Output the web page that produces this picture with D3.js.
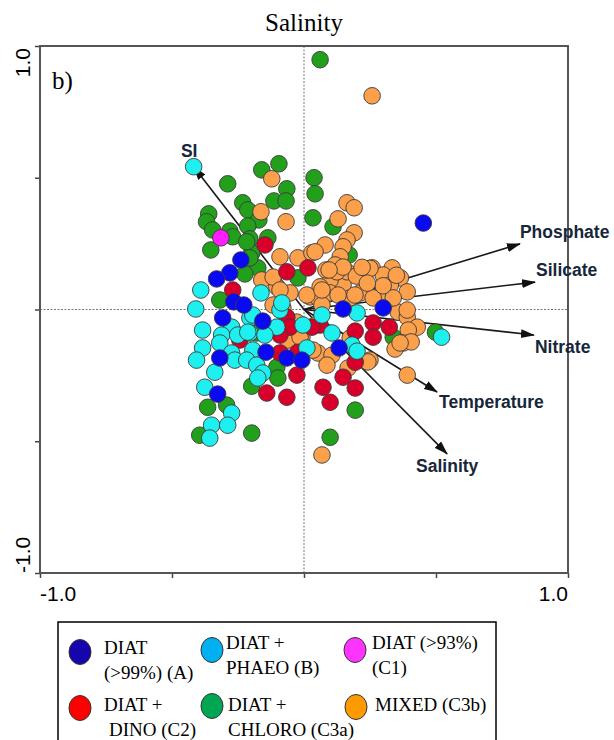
<!DOCTYPE html>
<html><head><meta charset="utf-8">
<script src="https://cdn.jsdelivr.net/npm/d3@7"></script>
<style>body{margin:0;background:#fff}svg{display:block}</style>
</head><body>
<svg id="c" width="614" height="740"></svg>
<script>
// ---------------- data ----------------
const title = "Salinity";
const panelLabel = "b)";
const axisTicks = [-1, -0.5, 0, 0.5, 1];
const xTickLabels = ["-1.0", "1.0"];
const yTickLabels = ["1.0", "-1.0"];

const envVars = ["Phosphate", "Silicate", "Nitrate", "Temperature", "Salinity", "SI"];
const envX = [0.818, 0.875, 0.871, 0.504, 0.542, -0.417];
const envY = [0.249, 0.104, -0.097, -0.313, -0.548, 0.541];

const groupNames = ["DIAT (>99%) (A)", "DIAT + PHAEO (B)", "DIAT (>93%) (C1)", "DIAT + DINO (C2)", "DIAT + CHLORO (C3a)", "MIXED (C3b)"];

const diatA = [[0.452,0.328],[-0.239,0.188],[-0.281,0.139],[-0.331,0.116],[-0.266,0.029],[-0.228,0.017],[0.148,0.002],[0.300,0.006],[0.133,-0.146],[-0.065,-0.184],[-0.008,-0.192],[-0.308,-0.032],[-0.156,-0.044],[-0.144,-0.162],[-0.319,-0.184],[-0.327,-0.321]];
const diatPhaeo = [[-0.418,0.542],[-0.163,0.063],[-0.391,0.074],[-0.410,0.002],[0.521,-0.105],[0.201,-0.013],[0.068,-0.021],[0.182,-0.135],[0.201,-0.158],[-0.091,-0.002],[-0.004,-0.059],[0.106,-0.089],[-0.084,0.025],[-0.274,-0.067],[-0.205,-0.032],[-0.103,-0.067],[-0.384,-0.078],[-0.312,-0.097],[-0.251,-0.097],[-0.205,-0.089],[-0.148,-0.097],[-0.384,-0.146],[-0.319,-0.127],[-0.274,-0.165],[-0.194,-0.154],[0.011,-0.146],[-0.407,-0.192],[-0.262,-0.192],[-0.217,-0.192],[-0.179,-0.211],[-0.156,-0.241],[-0.338,-0.238],[-0.175,-0.260],[-0.376,-0.295],[-0.274,-0.393],[-0.350,-0.439],[-0.289,-0.439],[-0.357,-0.488],[-0.194,-0.021],[-0.213,-0.086]];
const diat93 = [[-0.315,0.272]];
const diatDino = [[-0.148,0.245],[-0.065,0.143],[0.015,0.158],[-0.270,0.074],[0.262,-0.051],[0.194,-0.082],[0.061,-0.059],[0.262,-0.105],[0.323,-0.067],[0.194,-0.200],[-0.027,-0.249],[0.148,-0.257],[-0.065,-0.029],[0.194,-0.298],[0.072,-0.295],[0.099,-0.352],[-0.053,-0.067],[0.030,-0.067],[-0.243,-0.116],[-0.091,-0.165],[-0.023,-0.162],[-0.141,-0.317],[-0.065,-0.333],[-0.091,-0.097]];
const diatChloro = [[0.061,0.948],[-0.160,0.530],[-0.095,0.553],[-0.289,0.477],[-0.065,0.458],[-0.114,0.412],[-0.068,0.412],[-0.232,0.405],[-0.213,0.378],[-0.171,0.340],[-0.361,0.363],[-0.369,0.333],[-0.213,0.317],[-0.346,0.302],[-0.281,0.298],[-0.270,0.276],[-0.205,0.268],[-0.137,0.272],[-0.353,0.226],[-0.198,0.215],[-0.175,0.158],[-0.224,0.135],[-0.023,0.120],[-0.319,0.036],[0.038,0.500],[0.042,0.439],[0.034,0.348],[0.110,0.314],[0.171,0.207],[-0.217,0.257],[-0.205,0.196],[0.338,-0.105],[0.498,-0.086],[0.194,-0.382],[0.099,-0.485],[-0.179,-0.089],[-0.103,-0.219],[-0.099,-0.260],[-0.198,-0.291],[-0.365,-0.371],[-0.293,-0.363],[-0.395,-0.477],[-0.198,-0.469]];
const mixed = [[0.258,0.811],[-0.122,0.496],[-0.163,0.371],[-0.068,0.333],[-0.091,0.200],[-0.023,0.196],[0.030,0.215],[-0.160,0.112],[-0.103,0.086],[-0.053,0.063],[0.023,0.048],[0.163,0.405],[0.190,0.386],[0.129,0.344],[0.190,0.291],[0.163,0.264],[0.080,0.245],[0.148,0.238],[0.137,0.200],[0.118,0.169],[0.258,0.158],[0.334,0.158],[0.300,0.131],[0.365,0.120],[0.327,0.093],[0.391,0.067],[0.281,0.048],[0.148,0.093],[0.099,0.112],[0.163,0.143],[0.198,0.127],[0.213,0.063],[0.175,0.044],[0.099,0.063],[0.049,0.048],[0.061,0.086],[-0.027,-0.048],[0.357,-0.010],[0.391,-0.029],[0.429,-0.067],[0.395,-0.078],[0.376,-0.127],[0.406,-0.123],[0.345,-0.150],[0.250,-0.192],[0.053,-0.165],[0.106,-0.173],[-0.008,-0.105],[0.391,-0.249],[0.391,-0.002],[0.087,-0.211],[0.167,-0.222],[0.068,-0.552],[-0.117,0.017],[-0.080,0.006],[0.042,-0.059],[0.175,-0.108],[-0.117,0.123],[0.125,0.143],[0.083,0.150],[0.129,0.055],[-0.061,-0.116],[0.034,-0.154],[0.338,0.044],[0.068,0.017],[0.042,0.219],[0.011,0.055],[0.193,0.055],[0.364,-0.127],[0.242,-0.199],[0.148,0.161],[0.250,0.156],[0.262,0.044],[-0.015,-0.105],[-0.091,0.074],[0.068,0.074],[0.095,0.150],[0.300,0.090],[0.240,0.100],[0.220,0.160],[0.350,0.130]];

// ---------------- style ----------------
const pointColors = {A:"#0a0af2", B:"#1ef0f0", C1:"#ff1eff", C2:"#d8002a", C3a:"#22a01c", C3b:"#fca04c"};
const legendColors = ["#1605ad", "#00b0f0", "#ff33ff", "#ff0000", "#00a651", "#ff9900"];
const labelOffsets = [[0,-6],[1,-6],[1,18],[2,16],[-31,18],[-13,-10]];
const serif = "'Liberation Serif','Times New Roman',Times,serif";
const sans = "'Liberation Sans',Arial,sans-serif";

const svg = d3.select("#c");
const x = d3.scaleLinear().domain([-1, 1]).range([40, 568]);
const y = d3.scaleLinear().domain([-1, 1]).range([573, 46]);

// title & panel label
svg.append("text").attr("x", 304).attr("y", 31).attr("text-anchor", "middle")
  .attr("font-family", serif).attr("font-size", 25).text(title);
svg.append("text").attr("x", 52).attr("y", 89)
  .attr("font-family", serif).attr("font-size", 25).text(panelLabel);

// dashed zero lines
svg.append("line").attr("x1", x(0)).attr("x2", x(0)).attr("y1", y(1)).attr("y2", y(-1))
  .attr("stroke", "#777").attr("stroke-width", 1).attr("stroke-dasharray", "2,1.5");
svg.append("line").attr("x1", x(-1)).attr("x2", x(1)).attr("y1", y(0)).attr("y2", y(0))
  .attr("stroke", "#777").attr("stroke-width", 1).attr("stroke-dasharray", "2,1.5");

// axes (ticks only)
const gx = svg.append("g").attr("transform", `translate(0,${y(-1)})`)
  .call(d3.axisBottom(x).tickValues(axisTicks).tickSize(5).tickFormat(""));
const gy = svg.append("g").attr("transform", `translate(${x(-1)},0)`)
  .call(d3.axisLeft(y).tickValues(axisTicks).tickSize(5).tickFormat(""));
[gx, gy].forEach(g => { g.select(".domain").remove(); g.selectAll("line").attr("stroke", "#444").attr("stroke-width", 1.5); });

// frame
svg.append("rect").attr("x", x(-1)).attr("y", y(1)).attr("width", x(1) - x(-1)).attr("height", y(-1) - y(1))
  .attr("fill", "none").attr("stroke", "#555").attr("stroke-width", 2);

// tick labels
svg.append("text").attr("x", x(-1)).attr("y", 601).attr("text-anchor", "start")
  .attr("font-family", sans).attr("font-size", 21).text(xTickLabels[0]);
svg.append("text").attr("x", x(1)).attr("y", 601).attr("text-anchor", "end")
  .attr("font-family", sans).attr("font-size", 21).text(xTickLabels[1]);
svg.append("text").attr("transform", `translate(30,${y(1) + 2}) rotate(-90)`).attr("text-anchor", "end")
  .attr("font-family", sans).attr("font-size", 21).text(yTickLabels[0]);
svg.append("text").attr("transform", `translate(30,${y(-1)}) rotate(-90)`).attr("text-anchor", "start")
  .attr("font-family", sans).attr("font-size", 21).text(yTickLabels[1]);

// arrows
svg.append("defs").append("marker").attr("id", "ah").attr("viewBox", "0 -5 14 10")
  .attr("refX", 13).attr("refY", 0).attr("markerUnits", "userSpaceOnUse")
  .attr("markerWidth", 14).attr("markerHeight", 10).attr("orient", "auto")
  .append("path").attr("d", "M0,-4.5L14,0L0,4.5Z").attr("fill", "#111");

const env = envVars.map((n, i) => ({name: n, x: envX[i], y: envY[i], off: labelOffsets[i]}));
svg.append("g").selectAll("line").data(env).join("line")
  .attr("x1", x(0)).attr("y1", y(0)).attr("x2", d => x(d.x)).attr("y2", d => y(d.y))
  .attr("stroke", "#1a1a1a").attr("stroke-width", 1.6).attr("marker-end", "url(#ah)");

// points
const groups = [
  {data: diatChloro, color: pointColors.C3a},
  {data: mixed, color: pointColors.C3b},
  {data: diatDino, color: pointColors.C2},
  {data: diatPhaeo, color: pointColors.B},
  {data: diatA, color: pointColors.A},
  {data: diat93, color: pointColors.C1}
];
const pg = svg.append("g");
groups.forEach(g => {
  pg.append("g").selectAll("circle").data(g.data).join("circle")
    .attr("cx", d => x(d[0])).attr("cy", d => y(d[1])).attr("r", 8.3)
    .attr("fill", g.color).attr("stroke", "#3a3a3a").attr("stroke-width", 0.9);
});

// env labels
svg.append("g").selectAll("text").data(env).join("text")
  .attr("x", d => x(d.x) + d.off[0]).attr("y", d => y(d.y) + d.off[1])
  .attr("font-family", sans).attr("font-weight", "bold")
  .attr("font-size", 17.5).attr("fill", "#17263a").text(d => d.name);

// legend
const lg = svg.append("g");
lg.append("rect").attr("x", 58).attr("y", 622).attr("width", 438).attr("height", 130)
  .attr("fill", "#fff").attr("stroke", "#000").attr("stroke-width", 1.5);
const legendLines = [["DIAT", "(>99%) (A)"], ["DIAT +", "PHAEO (B)"], ["DIAT (>93%)", "(C1)"], ["DIAT +", "DINO (C2)"], ["DIAT +", "CHLORO (C3a)"], ["MIXED (C3b)"]];
const legendLayout = [
  {cx: 80, cy: 652, tx: 104, tx2: 104, ty: 654}, {cx: 212, cy: 650, tx: 226, tx2: 226, ty: 649}, {cx: 355, cy: 650, tx: 372, tx2: 372, ty: 649},
  {cx: 80, cy: 708, tx: 104, tx2: 109, ty: 711}, {cx: 212, cy: 706, tx: 228, tx2: 228, ty: 711}, {cx: 356, cy: 707, tx: 375, tx2: 375, ty: 711}
];
groupNames.forEach((n, i) => {
  const L = legendLayout[i];
  lg.append("ellipse").attr("cx", L.cx).attr("cy", L.cy).attr("rx", 11).attr("ry", 12.5)
    .attr("fill", legendColors[i]).attr("stroke", "#333").attr("stroke-width", 1);
  legendLines[i].forEach((t, j) => {
    lg.append("text").attr("x", j === 0 ? L.tx : L.tx2).attr("y", L.ty + j * 25)
      .attr("font-family", serif).attr("font-size", 19).text(t);
  });
});
</script>
</body></html>
